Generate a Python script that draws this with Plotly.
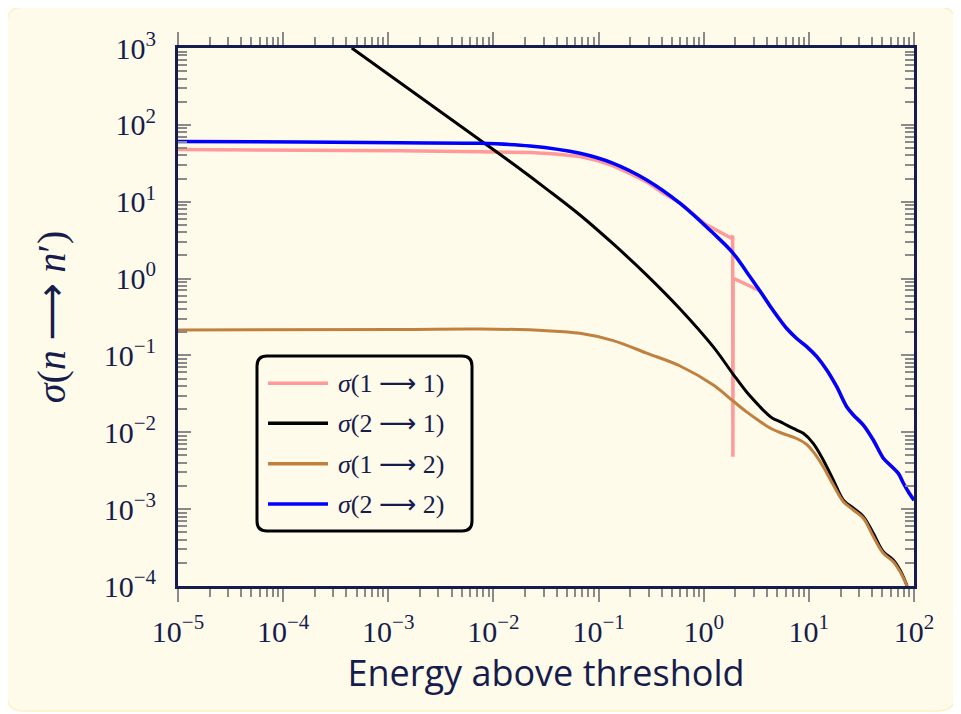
import plotly.graph_objects as go

# ---------------- data ----------------
e_11 = [1e-5, 1.445e-4, 1.29e-3, 7.44e-3, 0.0223, 0.0388, 0.0665, 0.0975, 0.138, 0.198,
        0.287, 0.41, 0.596, 1.03, 1.43, 1.667, 1.82, 1.885, 1.895, 1.905, 2.56, 3.28, 3.43,
        4.27, 5.32, 6.16, 7.66, 9.54, 11.9, 14.8, 18.4, 22.9, 26.5, 33.0, 41.0, 51.1, 59.2,
        71.0, 79.1, 89.7, 100]
s_11 = [47.8, 47.1, 46.0, 44.7, 43.7, 41.8, 38.7, 34.4, 29.2, 23.3,
        18.1, 13.0, 9.62, 5.13, 4.04, 3.58, 3.37, 3.6, 0.0048, 1.01, 0.838, 0.70, 0.689,
        0.440, 0.289, 0.224, 0.166, 0.130, 0.0964, 0.0647, 0.0392, 0.0215, 0.0168, 0.0124,
        0.00794, 0.00459, 0.00376, 0.00292, 0.00219, 0.00162, 0.00131]

e_21 = [4.49e-4, 7.44e-3, 0.01545, 0.0321, 0.0665, 0.138, 0.287, 0.596, 1.234, 1.90,
        2.56, 3.43, 3.97, 4.56, 5.32, 6.16, 7.66, 8.85, 11.0, 13.7, 17.1, 21.3, 26.5, 33.0,
        41.0, 51.1, 63.5, 73.6, 86.0]
s_21 = [1000, 63.5, 30.9, 14.6, 6.72, 2.82, 1.11, 0.402, 0.129, 0.0573,
        0.0334, 0.0215, 0.0176, 0.0151, 0.0138, 0.0124, 0.0107, 0.0097, 0.00719, 0.00437,
        0.00239, 0.00131, 0.00103, 0.000798, 0.000485, 0.000280, 0.000218, 0.000161, 0.0001]

e_12 = [1e-5, 1.29e-3, 7.44e-3, 0.0321, 0.0665, 0.138, 0.287, 0.596, 1.234, 1.90, 2.56,
        3.43, 3.97, 4.56, 5.32, 6.16, 7.66, 9.54, 11.0, 13.7, 17.1, 21.3, 26.5, 33.0, 41.0,
        51.1, 63.5, 73.6, 86.0]
s_12 = [0.214, 0.218, 0.221, 0.210, 0.194, 0.156, 0.107, 0.0729, 0.0412, 0.0255, 0.0184,
        0.0138, 0.0121, 0.01087, 0.00993, 0.00923, 0.0083, 0.00694, 0.0056, 0.00357,
        0.00206, 0.00125, 0.000975, 0.000760, 0.000439, 0.000267, 0.000207, 0.000154,
        0.0001]

e_22 = [1e-5, 1.445e-4, 1.29e-3, 7.44e-3, 0.0223, 0.0665, 0.138, 0.287, 0.596, 1.234, 1.90,
        2.56, 3.43, 4.27, 5.32, 6.16, 7.66, 9.54, 11.9, 14.8, 18.4, 22.9, 26.5, 33.0, 41.0,
        51.1, 59.2, 71.0, 79.1, 89.7, 100]
s_22 = [60.8, 59.8, 58.4, 57.5, 53.1, 42.7, 31.6, 19.2, 9.53, 3.88, 2.15,
        1.22, 0.689, 0.440, 0.289, 0.224, 0.166, 0.130, 0.0964, 0.0647, 0.0392, 0.0215,
        0.0168, 0.0124, 0.00794, 0.00459, 0.00376, 0.00292, 0.00219, 0.00162, 0.00131]

series_names = ["σ(1 → 1)", "σ(2 → 1)", "σ(1 → 2)", "σ(2 → 2)"]
series_colors = ["#ff9a9a", "#000000", "#c08040", "#0000ff"]
series_shapes = ["linear", "spline", "spline", "spline"]

x_exponents = [-5, -4, -3, -2, -1, 0, 1, 2]
y_exponents = [-4, -3, -2, -1, 0, 1, 2, 3]
x_title = "Energy above threshold"
y_title = "σ(n → n′)"

# ---------------- style ----------------
NAVY = "#161c4c"
TICKGRAY = "#8a8a8a"
CREAM = "#fffbea"
SERIF = "Liberation Serif"
ARROW = ' <span style="font-family:\'DejaVu Sans\'">\u27f6</span> '

OFF = 8                      # page body margin
W, H = 961 - OFF, 714 - OFF  # figure size
PL, PR, PT, PB = 178, 914, 48, 586   # plot area in page pixels
L, T = PL - OFF, PT - OFF
R, B = W - (PR - OFF), H - (PB - OFF)
PW, PH = PR - PL, PB - PT


def px_x(px):
    return (px - PL) / PW


def px_y(py):
    return (PB - py) / PH


def rounded(x0, y0, x1, y1, r):
    rx, ry = r / PW, r / PH
    a, b = px_x(x0), px_x(x1)
    top, bot = px_y(y0), px_y(y1)
    return (f"M {a+rx},{top} L {b-rx},{top} Q {b},{top} {b},{top-ry} "
            f"L {b},{bot+ry} Q {b},{bot} {b-rx},{bot} L {a+rx},{bot} "
            f"Q {a},{bot} {a},{bot+ry} L {a},{top-ry} Q {a},{top} {a+rx},{top} Z")


def math_text(s):
    s = s.replace("σ", "<i>σ</i>").replace("n", "<i>n</i>")
    return s.replace(" → ", ARROW)


def sup_label(k):
    s = str(k).replace("-", "\u2212")
    return f"10<sup>{s}</sup>"


def minor_vals(lo, hi):
    out = []
    for d in range(lo, hi):
        for m in range(2, 10):
            out.append(m * 10.0 ** d)
    return out


fig = go.Figure()
data = [(e_11, s_11, 3.5), (e_21, s_21, 3), (e_12, s_12, 3), (e_22, s_22, 3.5)]
for (ex, sy, w), name, col, shp in zip(data, series_names, series_colors, series_shapes):
    fig.add_trace(go.Scatter(x=ex, y=sy, mode="lines", name=name,
                             line=dict(color=col, width=w, shape=shp, smoothing=1.0),
                             showlegend=False))

axis_common = dict(
    type="log", showgrid=False, zeroline=False, showline=True, linecolor=NAVY,
    linewidth=3, mirror="allticks", tickcolor=TICKGRAY, tickwidth=1.5, ticklen=13,
    tickfont=dict(family=SERIF, size=30, color=NAVY),
)

fig.update_xaxes(
    **axis_common, range=[-5, 2], ticks="outside",
    tickvals=[10.0 ** k for k in x_exponents], ticktext=[sup_label(k) for k in x_exponents],
    minor=dict(tickvals=minor_vals(-5, 2), ticks="outside", ticklen=8, tickwidth=1.5,
               tickcolor=TICKGRAY, showgrid=False),
    ticklabelstandoff=4,
    title=dict(text=x_title, font=dict(family="Open Sans", size=36, color=NAVY), standoff=0),
)
fig.update_yaxes(
    **axis_common, range=[-4, 3], ticks="inside",
    tickvals=[10.0 ** k for k in y_exponents], ticktext=[sup_label(k) for k in y_exponents],
    minor=dict(tickvals=minor_vals(-4, 3), ticks="inside", ticklen=9, tickwidth=1.5,
               tickcolor=TICKGRAY, showgrid=False),
    ticklabelstandoff=13,
    title=dict(text=math_text(y_title), font=dict(family=SERIF, size=40, color=NAVY),
               standoff=26),
)

shapes = [
    dict(type="path", xref="paper", yref="paper", layer="below",
         path=rounded(7, 7, 955, 711, 16), fillcolor=CREAM,
         line=dict(color="#fbf1c4", width=1.5)),
    dict(type="path", xref="paper", yref="paper", layer="above",
         path=rounded(257, 356, 472, 531, 10), fillcolor=CREAM,
         line=dict(color="#000000", width=3)),
]
annotations = []
row_y = [383.3, 423.3, 463.7, 504]
for name, col, ry in zip(series_names, series_colors, row_y):
    shapes.append(dict(type="line", xref="paper", yref="paper", layer="above",
                       x0=px_x(268), x1=px_x(328), y0=px_y(ry), y1=px_y(ry),
                       line=dict(color=col, width=3.5)))
    annotations.append(dict(xref="paper", yref="paper", x=px_x(336), y=px_y(ry),
                            xanchor="left", yanchor="middle", showarrow=False,
                            text=math_text(name),
                            font=dict(family=SERIF, size=26, color=NAVY)))

fig.update_layout(
    width=W, height=H, autosize=False,
    margin=dict(l=L, r=R, t=T, b=B, pad=0),
    paper_bgcolor="white", plot_bgcolor="rgba(0,0,0,0)",
    shapes=shapes, annotations=annotations, showlegend=False,
)

fig.write_html("out.html")
